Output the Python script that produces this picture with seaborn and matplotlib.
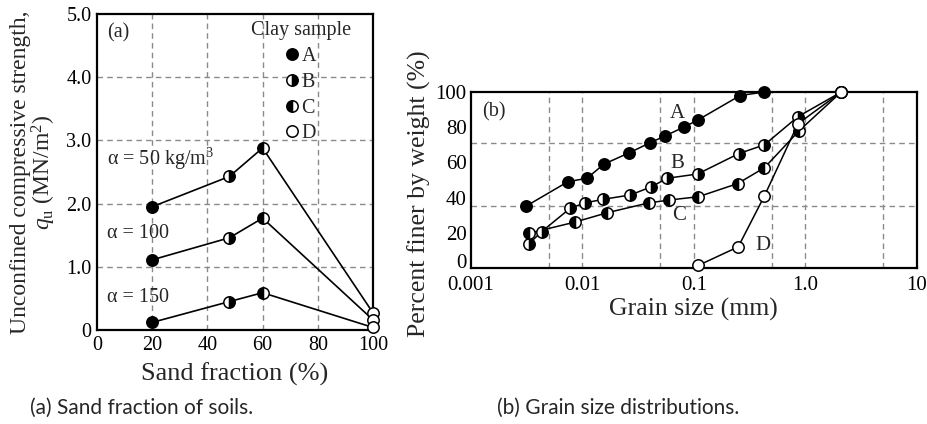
import numpy as np
import pandas as pd
import matplotlib
matplotlib.use("Agg")
import matplotlib.pyplot as plt
from matplotlib.lines import Line2D
import seaborn as sns

# ---------------- data: panel (a) ----------------
sand_fraction = [20, 48, 60, 100]
q_alpha50 = [1.95, 2.43, 2.88, 0.27]
q_alpha100 = [1.11, 1.46, 1.77, 0.16]
q_alpha150 = [0.12, 0.45, 0.59, 0.04]
alpha_labels = ["α = 50 kg/m$^3$", "α = 100", "α = 150"]
samples = ["A", "B", "C", "D"]
a_xticks = [0, 20, 40, 60, 80, 100]
a_yticks = [0, 1, 2, 3, 4, 5]
a_yticklabels = ["0", "1.0", "2.0", "3.0", "4.0", "5.0"]

# ---------------- data: panel (b) ----------------
A_size = [0.0031, 0.0074, 0.011, 0.0156, 0.0264, 0.040, 0.055, 0.081, 0.108, 0.26, 0.43]
A_pct = [35, 49, 51, 59, 65.5, 71, 75, 80, 84, 98, 100]
B_size = [0.0033, 0.0043, 0.0078, 0.0106, 0.0153, 0.027, 0.041, 0.058, 0.108, 0.253, 0.43, 0.86, 2.1]
B_pct = [13.6, 20.6, 34, 37, 39, 41.5, 46, 51, 53.4, 65, 70, 86, 100]
C_size = [0.0033, 0.0085, 0.0167, 0.0395, 0.060, 0.110, 0.248, 0.43, 0.88, 2.1]
C_pct = [19.7, 26, 31.4, 37, 38.6, 40.5, 48, 57, 78, 100]
D_size = [0.11, 0.25, 0.43, 0.86, 2.1]
D_pct = [1.5, 12, 41, 82, 100]
b_xticks = [0.001, 0.01, 0.1, 1, 10]
b_xticklabels = ["0.001", "0.01", "0.1", "1.0", "10"]
b_yticks = [0, 20, 40, 60, 80, 100]

# ---------------- style ----------------
sns.set_style("white")
SERIF = ["Liberation Serif", "DejaVu Serif"]
plt.rcParams["font.family"] = SERIF
plt.rcParams["mathtext.fontset"] = "custom"
plt.rcParams["mathtext.rm"] = "Liberation Serif"
plt.rcParams["mathtext.it"] = "Liberation Serif:italic"

marker_style = {
    "A": dict(fillstyle="full", markerfacecolor="black"),
    "B": dict(fillstyle="right", markerfacecolor="black", markerfacecoloralt="white"),
    "C": dict(fillstyle="left", markerfacecolor="black", markerfacecoloralt="white"),
    "D": dict(fillstyle="full", markerfacecolor="white"),
}
MS = 8.2
GRID = dict(color="#8a8a8a", lw=1.0, ls=(0, (4, 3)), zorder=0)

fig = plt.figure(figsize=(9.27, 4.24), dpi=100)

# ================= panel (a) =================
axa = fig.add_axes([0.1046, 0.2217, 0.2978, 0.7453])
for xv in [20, 40, 60, 80]:
    axa.axvline(xv, **GRID)
for yv in [1, 2, 3, 4]:
    axa.axhline(yv, **GRID)

series_a = [q_alpha50, q_alpha100, q_alpha150]
for q in series_a:
    df = pd.DataFrame({"sand": sand_fraction, "q": q})
    sns.lineplot(data=df, x="sand", y="q", estimator=None, sort=False,
                 color="black", lw=1.2, ax=axa, zorder=2)
for i, s in enumerate(samples):
    df = pd.DataFrame({"sand": [sand_fraction[i]] * 3,
                       "q": [q_alpha50[i], q_alpha100[i], q_alpha150[i]]})
    sns.lineplot(data=df, x="sand", y="q", estimator=None, sort=False,
                 ls="", marker="o", ms=MS, color="black",
                 markeredgecolor="black", markeredgewidth=1.1,
                 ax=axa, zorder=3, clip_on=False, **marker_style[s])

axa.set_xlim(0, 100)
axa.set_ylim(0, 5)
axa.set_xticks(a_xticks)
axa.set_xticklabels([str(v) for v in a_xticks])
axa.set_yticks(a_yticks)
axa.set_yticklabels(a_yticklabels)
axa.tick_params(labelsize=14.5, direction="in", length=3, width=1, colors="black", pad=4)
for sp in axa.spines.values():
    sp.set_linewidth(1.6)
    sp.set_color("black")
axa.set_xlabel("Sand fraction (%)", fontsize=19, labelpad=6)
axa.set_ylabel("Unconfined compressive strength,\n$q_{\\rm u}$ (MN/m$^2$)",
               fontsize=17, labelpad=6, linespacing=0.95)

axa.text(0.035, 0.97, "(a)", transform=axa.transAxes, fontsize=14.5, va="top", ha="left")
label_y = [2.7, 1.53, 0.52]
for lab, yy in zip(alpha_labels, label_y):
    axa.text(3.5, yy, lab, fontsize=14.5, va="center", ha="left")

handles = [Line2D([], [], ls="", marker="o", ms=MS, color="black",
                  markeredgecolor="black", markeredgewidth=1.1, **marker_style[s])
           for s in samples]
leg = axa.legend(handles, samples, title="Clay sample", loc="upper right",
                 bbox_to_anchor=(0.965, 1.015), frameon=False, fontsize=14.5,
                 title_fontsize=14.5, handlelength=0.6, handletextpad=0.15,
                 labelspacing=0.33, borderaxespad=0.2)

# ================= panel (b) =================
axb = fig.add_axes([0.508, 0.368, 0.481, 0.415])
for xv in [0.005, 0.01, 0.05, 0.1, 0.5, 1, 5]:
    axb.axvline(xv, **GRID)
for yv in [35, 71]:
    axb.axhline(yv, **GRID)

curves_b = [(A_size, A_pct, "A"), (B_size, B_pct, "B"),
            (C_size, C_pct, "C"), (D_size, D_pct, "D")]
for xs, ys, s in curves_b:
    df = pd.DataFrame({"size": xs, "pct": ys})
    sns.lineplot(data=df, x="size", y="pct", estimator=None, sort=False,
                 color="black", lw=1.1, ax=axb, zorder=2)
for xs, ys, s in curves_b:
    df = pd.DataFrame({"size": xs, "pct": ys})
    sns.lineplot(data=df, x="size", y="pct", estimator=None, sort=False,
                 ls="", marker="o", ms=MS, color="black",
                 markeredgecolor="black", markeredgewidth=1.1,
                 ax=axb, zorder=3, clip_on=False, **marker_style[s])

axb.set_xscale("log")
axb.set_xlim(0.001, 10)
axb.set_ylim(0, 100)
axb.set_xticks(b_xticks)
axb.set_xticklabels(b_xticklabels)
axb.minorticks_off()
axb.set_yticks(b_yticks)
axb.set_yticklabels([str(v) for v in b_yticks])
axb.tick_params(labelsize=15, direction="in", length=3, width=1, colors="black")
axb.tick_params(axis="x", pad=6)
axb.tick_params(axis="y", pad=3)
for lbl in axb.get_yticklabels():
    if lbl.get_text() == "0":
        lbl.set_va("baseline")
for sp in axb.spines.values():
    sp.set_linewidth(1.6)
    sp.set_color("black")
axb.set_xlabel("Grain size (mm)", fontsize=18.5, labelpad=2)
axb.set_ylabel("Percent finer by weight (%)", fontsize=18.5)
axb.yaxis.set_label_coords(-0.09, 0.42)

axb.text(0.025, 0.94, "(b)", transform=axb.transAxes, fontsize=14.5, va="top", ha="left")
for txt, xx, yy in [("A", 0.071, 88), ("B", 0.071, 59.5), ("C", 0.073, 30), ("D", 0.42, 12.7)]:
    axb.text(xx, yy, txt, fontsize=15, ha="center", va="center")

# ---------------- captions ----------------
CAP = ["Lato", "DejaVu Sans"]
fig.text(30 / 927, 1 - 408 / 424, "(a) Sand fraction of soils.", fontsize=15,
         family=CAP, ha="left", va="center")
fig.text(497 / 927, 1 - 408 / 424, "(b) Grain size distributions.", fontsize=15,
         family=CAP, ha="left", va="center")

fig.savefig("out.png", dpi=100)
